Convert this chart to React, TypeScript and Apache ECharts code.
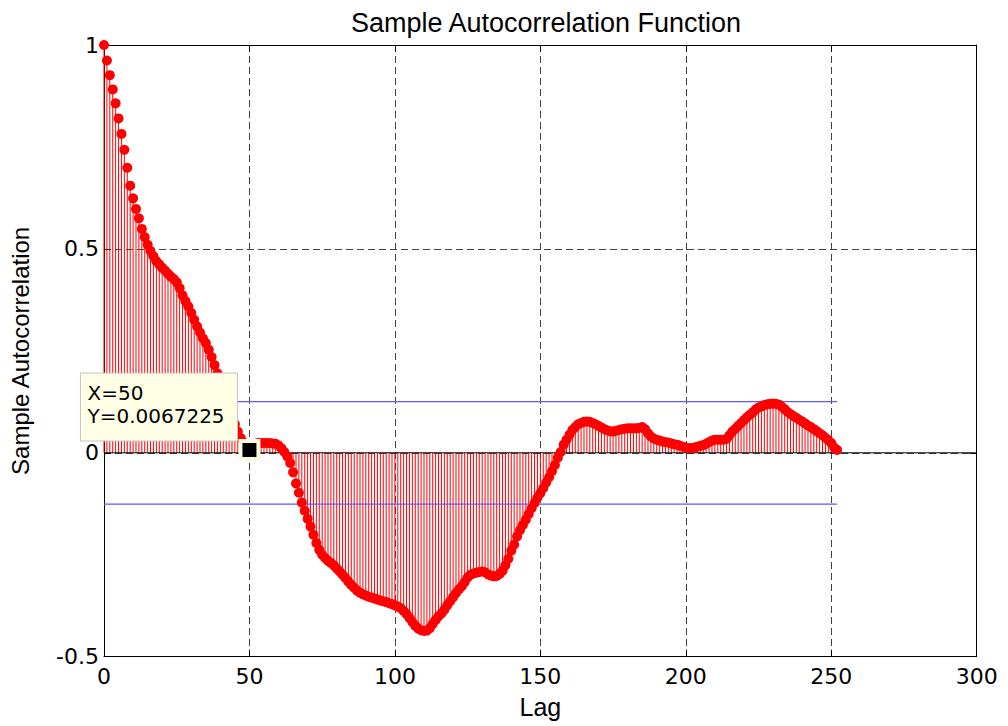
import React, { useEffect, useRef } from "react";
import * as echarts from "echarts";

// Sample autocorrelation values for lags 0..252
const acf = [
  1, 0.962, 0.926, 0.891, 0.857, 0.82, 0.782, 0.743, 0.699, 0.655,
  0.624, 0.598, 0.575, 0.549, 0.529, 0.51, 0.495, 0.482, 0.47, 0.462,
  0.454, 0.447, 0.439, 0.432, 0.426, 0.418, 0.404, 0.386, 0.372, 0.359,
  0.343, 0.326, 0.31, 0.295, 0.281, 0.269, 0.253, 0.235, 0.215, 0.195,
  0.175, 0.155, 0.135, 0.11, 0.09, 0.07, 0.052, 0.036, 0.025, 0.012,
  0.0067225, 0.015, 0.022, 0.024, 0.024, 0.024, 0.024, 0.024, 0.023, 0.022,
  0.018, 0.011, 0.002, -0.009, -0.025, -0.048, -0.075, -0.098, -0.122, -0.142,
  -0.162, -0.181, -0.201, -0.221, -0.238, -0.25, -0.258, -0.265, -0.27, -0.276,
  -0.284, -0.291, -0.299, -0.307, -0.316, -0.324, -0.331, -0.338, -0.343, -0.347,
  -0.35, -0.353, -0.355, -0.357, -0.36, -0.362, -0.364, -0.366, -0.369, -0.371,
  -0.374, -0.377, -0.381, -0.388, -0.395, -0.405, -0.415, -0.424, -0.431, -0.435,
  -0.437, -0.436, -0.43, -0.42, -0.41, -0.401, -0.394, -0.385, -0.374, -0.364,
  -0.354, -0.344, -0.335, -0.327, -0.317, -0.306, -0.299, -0.296, -0.294, -0.292,
  -0.291, -0.293, -0.298, -0.301, -0.303, -0.302, -0.297, -0.289, -0.276, -0.26,
  -0.24, -0.225, -0.205, -0.19, -0.177, -0.164, -0.15, -0.136, -0.123, -0.11,
  -0.099, -0.087, -0.073, -0.06, -0.045, -0.03, -0.012, 0.002, 0.02, 0.032,
  0.044, 0.056, 0.063, 0.07, 0.073, 0.076, 0.077, 0.076, 0.073, 0.07,
  0.066, 0.062, 0.058, 0.055, 0.053, 0.052, 0.054, 0.056, 0.058, 0.059,
  0.06, 0.06, 0.06, 0.06, 0.061, 0.063, 0.058, 0.048, 0.04, 0.035,
  0.032, 0.03, 0.028, 0.026, 0.025, 0.023, 0.021, 0.02, 0.017, 0.015,
  0.013, 0.011, 0.012, 0.013, 0.015, 0.017, 0.019, 0.022, 0.026, 0.03,
  0.032, 0.032, 0.032, 0.032, 0.034, 0.043, 0.052, 0.059, 0.066, 0.073,
  0.08, 0.087, 0.093, 0.099, 0.106, 0.111, 0.114, 0.117, 0.119, 0.12,
  0.121, 0.12, 0.118, 0.113, 0.107, 0.1, 0.095, 0.09, 0.086, 0.081,
  0.077, 0.072, 0.067, 0.063, 0.058, 0.053, 0.048, 0.043, 0.037, 0.031,
  0.024, 0.013, 0.007,
];

// Confidence bounds
const boundLags = [0, 252];
const upperBound = [0.1257, 0.1257];
const lowerBound = [-0.1257, -0.1257];

// Zero baseline across the whole axis
const baseLags = [0, 300];
const baseValues = [0, 0];

// Data cursor
const cursorLag = 50;
const cursorValue = 0.0067225;
const cursorLines = ["X=50", "Y=0.0067225"];

// Axes
const xMin = 0;
const xMax = 300;
const xInterval = 50;
const yMin = -0.5;
const yMax = 1;
const yInterval = 0.5;

const TITLE = "Sample Autocorrelation Function";
const X_NAME = "Lag";
const Y_NAME = "Sample Autocorrelation";

export default function App() {
  const ref = useRef<HTMLDivElement>(null);

  useEffect(() => {
    const chart = echarts.init(ref.current!, null, { renderer: "svg" });
    const points = acf.map((v, i) => [i, v]);
    const upper = boundLags.map((l, i) => [l, upperBound[i]]);
    const lower = boundLags.map((l, i) => [l, lowerBound[i]]);
    const base = baseLags.map((l, i) => [l, baseValues[i]]);

    const tickFont = { fontFamily: "DejaVu Sans", fontSize: 22, color: "#000" };
    const nameFont = { fontFamily: "Liberation Sans", fontSize: 25, color: "#000" };
    const border = { show: true, lineStyle: { color: "#000", width: 1 } };
    const ticks = { show: true, inside: true, length: 7, lineStyle: { color: "#000" } };
    const grid = { show: true, lineStyle: { color: "#444", type: [7, 4], width: 1 } };

    chart.setOption({
      animation: false,
      backgroundColor: "#fff",
      title: {
        text: TITLE,
        left: 541,
        top: 4,
        textAlign: "center",
        textStyle: { fontFamily: "Liberation Sans", fontSize: 27, fontWeight: "normal", color: "#000" },
      },
      grid: { left: 102.3, right: 31.3, top: 45, bottom: 69.3, containLabel: false },
      xAxis: [
        {
          type: "value",
          min: xMin,
          max: xMax,
          interval: xInterval,
          position: "bottom",
          axisLine: { ...border, onZero: false },
          axisTick: ticks,
          axisLabel: { ...tickFont, margin: 9 },
          splitLine: grid,
          name: X_NAME,
          nameLocation: "middle",
          nameGap: 38,
          nameTextStyle: nameFont,
        },
        {
          type: "value",
          min: xMin,
          max: xMax,
          interval: xInterval,
          position: "top",
          axisLine: { ...border, onZero: false },
          axisTick: ticks,
          axisLabel: { show: false },
          splitLine: { show: false },
        },
      ],
      yAxis: [
        {
          type: "value",
          min: yMin,
          max: yMax,
          interval: yInterval,
          position: "left",
          axisLine: { ...border, onZero: false },
          axisTick: ticks,
          axisLabel: { ...tickFont, margin: 5 },
          splitLine: grid,
          name: Y_NAME,
          nameLocation: "middle",
          nameGap: 72,
          nameTextStyle: { ...nameFont, fontSize: 24 },
        },
        {
          type: "value",
          min: yMin,
          max: yMax,
          interval: yInterval,
          position: "right",
          axisLine: { ...border, onZero: false },
          axisTick: ticks,
          axisLabel: { show: false },
          splitLine: { show: false },
        },
      ],
      series: [
        {
          type: "custom",
          name: "stems",
          xAxisIndex: 0,
          yAxisIndex: 0,
          data: points,
          encode: { x: 0, y: 1 },
          z: 2,
          silent: true,
          renderItem: (params: any, api: any) => {
            const x = api.value(0);
            const y = api.value(1);
            const p0 = api.coord([x, 0]);
            const p1 = api.coord([x, y]);
            return {
              type: "line",
              shape: { x1: p0[0], y1: p0[1], x2: p1[0], y2: p1[1] },
              style: { stroke: "#ff0000", lineWidth: 1 },
            };
          },
        },
        {
          type: "line",
          name: "baseline",
          data: base,
          symbol: "none",
          z: 3,
          silent: true,
          color: "#000000",
          lineStyle: { color: "#000000", width: 1 },
        },
        {
          type: "line",
          name: "upper",
          data: upper,
          symbol: "none",
          z: 3,
          silent: true,
          color: "#5a5aff",
          lineStyle: { color: "#5a5aff", width: 1.3, opacity: 1 },
        },
        {
          type: "line",
          name: "lower",
          data: lower,
          symbol: "none",
          z: 3,
          silent: true,
          color: "#5a5aff",
          lineStyle: { color: "#5a5aff", width: 1.3, opacity: 1 },
        },
        {
          type: "scatter",
          name: "acf",
          data: points,
          symbol: "circle",
          symbolSize: 10,
          z: 4,
          silent: true,
          itemStyle: { color: "#ff0000", opacity: 1 },
        },
        {
          type: "scatter",
          name: "cursor",
          data: [[cursorLag, cursorValue]],
          symbol: "rect",
          symbolSize: 18,
          z: 5,
          silent: true,
          itemStyle: { color: "#000", borderColor: "#fbfbe4", borderWidth: 4, opacity: 1 },
        },
      ],
    });

    const p = chart.convertToPixel({ gridIndex: 0 }, [cursorLag, cursorValue]) as number[];
    chart.setOption({
      graphic: [
        {
          type: "rect",
          z: 100,
          zlevel: 0,
          silent: true,
          shape: { x: p[0] - 169, y: p[1] - 77, width: 157, height: 68 },
          style: { fill: "#ffffe6", stroke: "#c4c4c4", lineWidth: 1, opacity: 1 },
        },
        {
          type: "text",
          z: 101,
          silent: true,
          x: p[0] - 162,
          y: p[1] - 67,
          style: {
            text: cursorLines[0],
            font: "20px 'DejaVu Sans'",
            fill: "#000",
            textVerticalAlign: "top",
          },
        },
        {
          type: "text",
          z: 101,
          silent: true,
          x: p[0] - 162,
          y: p[1] - 44,
          style: {
            text: cursorLines[1],
            font: "20px 'DejaVu Sans'",
            fill: "#000",
            textVerticalAlign: "top",
          },
        },
      ],
    });

    return () => chart.dispose();
  }, []);

  return (
    <div
      ref={ref}
      style={{ position: "absolute", left: 0, top: 0, width: 1008, height: 726 }}
    />
  );
}
